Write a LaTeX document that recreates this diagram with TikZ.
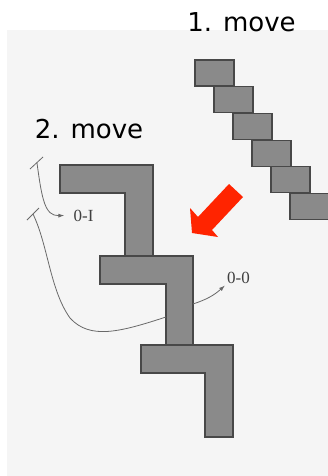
\documentclass[tikz,border=0pt]{standalone}
\usepackage{fontspec}
\usepackage{tikz}
\usetikzlibrary{arrows.meta,positioning}
\newfontfamily\movefont{DejaVu Sans}
\newfontfamily\tagfont{Liberation Serif}
\definecolor{paper}{RGB}{245,245,245}
\definecolor{brickfill}{RGB}{138,138,138}
\definecolor{brickedge}{RGB}{72,72,72}
\definecolor{wirecol}{RGB}{105,105,105}
\definecolor{pushred}{RGB}{255,36,0}

\begin{document}
\begin{tikzpicture}[
    x=1pt, y=-1pt,
    node distance=26.7pt,
    >={Latex[length=6pt,width=4pt]},
    brick/.style={
		rectangle,
		draw=brickedge,
		line width=1.1pt,
		fill=brickfill,
		minimum width=39pt,
		minimum height=26pt,
		inner sep=0pt
	},
	piece/.style={
		draw=brickedge,
		line width=1.1pt,
		fill=brickfill
	},
	title/.style={
		font=\movefont\fontsize{26}{30}\selectfont,
		inner sep=0pt
	},
	tag/.style={
		font=\tagfont\fontsize{17}{20}\selectfont,
		text=black!75,
		inner sep=2pt
	},
	wire/.style={
		draw=wirecol,
		line width=0.8pt
	}
  ]
  \useasboundingbox (0,0) rectangle (328,476);
  \fill [paper] (7,30) rectangle (328,476);

  % We start by placing the titles
  \node [title] (move1) at (241.5,22.5) {1. move};
  \node [title] (move2) at (89,129) {2. move};

  % the falling staircase
  \node [brick] (brick1) at (214.5,73) {};
  \node [brick, below of=brick1, xshift=19pt] (brick2) {};
  \node [brick, below of=brick2, xshift=19pt] (brick3) {};
  \node [brick, below of=brick3, xshift=19pt] (brick4) {};
  \node [brick, below of=brick4, xshift=19pt] (brick5) {};
  \node [brick, below of=brick5, xshift=19pt] (brick6) {};

  % the three pieces after the move
  \draw [piece] (60,165) -- (153,165) -- (153,257) -- (125,257) -- (125,193) -- (60,193) -- cycle;
  \draw [piece] (100,256) -- (193,256) -- (193,345) -- (166,345) -- (166,284) -- (100,284) -- cycle;
  \draw [piece] (141,345) -- (233,345) -- (233,437) -- (205,437) -- (205,373) -- (141,373) -- cycle;

  % red push arrow
  \fill [pushred] (229,184) -- (243,197) -- (212,230) -- (218,237) -- (192,233) -- (190,208) -- (198,217) -- cycle;

  % labels
  \node [tag] (tag01) at (83.5,215.5) {0-I};
  \node [tag] (tag00) at (238.5,277.5) {0-0};

  \coordinate (forkA) at (37,163);
  \coordinate (forkB) at (33,214);
  \coordinate (pieceBleft) at (166,317);
  \coordinate (pieceBright) at (193,304);

  \draw [wire] (forkA) +(-7,6) -- +(6,-6);
  \draw [wire] (forkB) +(-6,6) -- +(6,-6);

  \draw [wire, ->] (forkA) .. controls (42,200) and (45,216) .. ([xshift=-7pt]tag01.west);
  \draw [wire] (forkB) .. controls (48,245) and (50,290) .. (70,318) .. controls (90,340) and (120,332) .. (pieceBleft);
  \draw [wire, ->] (pieceBright) to [bend right=12] (tag00.south west);

\end{tikzpicture}
\end{document}
